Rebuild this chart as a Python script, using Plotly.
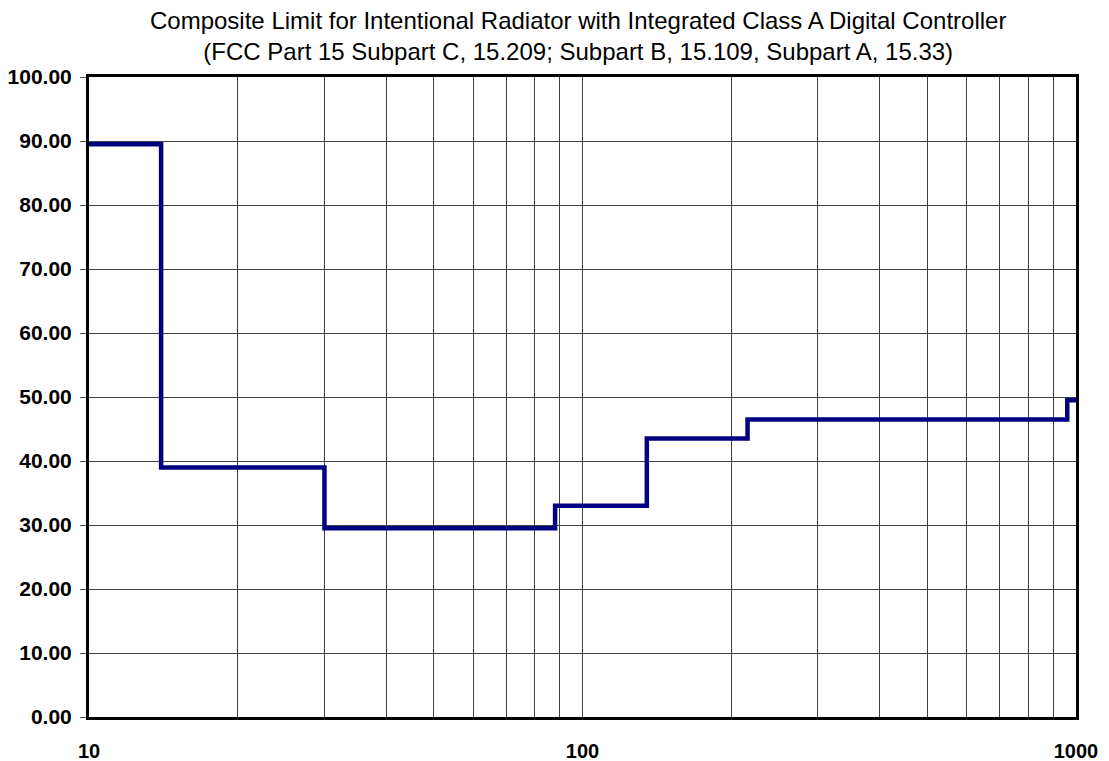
import plotly.graph_objects as go

# Data: frequency breakpoints (MHz) and limit levels (dBuV/m)
freq_breaks = [10, 14, 30, 88, 135, 216, 960, 1000]
limit_levels = [89.5, 39.0, 29.5, 33.0, 43.5, 46.5, 49.5]
x_tick_vals = [10, 20, 30, 40, 50, 60, 70, 80, 90, 100,
               200, 300, 400, 500, 600, 700, 800, 900, 1000]
x_tick_text = ["10", "", "", "", "", "", "", "", "", "100",
               "", "", "", "", "", "", "", "", "1000"]
title_lines = ["Composite Limit for Intentional Radiator with Integrated Class A Digital Controller",
               "(FCC Part 15 Subpart C, 15.209; Subpart B, 15.109, Subpart A, 15.33)"]

y_vals = limit_levels + [limit_levels[-1]]

fig = go.Figure()
fig.add_trace(go.Scatter(
    x=freq_breaks, y=y_vals, mode="lines", line_shape="hv",
    line=dict(color="#000080", width=4.5), hoverinfo="skip", showlegend=False,
))

FONT = "Liberation Sans, Arial, sans-serif"
# the page body adds an 8px offset; margins compensate for it
fig.update_layout(
    width=1109, height=761,
    margin=dict(l=80.5, r=41.3, t=68.5, b=52.3, autoexpand=False),
    paper_bgcolor="white", plot_bgcolor="white",
    font=dict(family=FONT, color="black"),
    showlegend=False,
)
fig.add_annotation(
    text="<br>".join(title_lines), xref="paper", yref="paper",
    x=0.4955, y=1.0646, xanchor="center", yanchor="middle",
    showarrow=False, font=dict(family=FONT, size=24, color="black"),
)
fig.update_xaxes(
    type="log", range=[1, 3], automargin=False,
    tickvals=x_tick_vals, ticktext=x_tick_text,
    showgrid=True, gridcolor="#404040", gridwidth=1,
    showline=True, linecolor="black", linewidth=3, mirror=True,
    ticks="", ticklabelstandoff=14,
    tickfont=dict(family=FONT, size=20, color="black", weight="bold"),
    zeroline=False,
)
fig.update_yaxes(
    range=[0, 100], dtick=10, tickformat=".2f", automargin=False,
    showgrid=True, gridcolor="#404040", gridwidth=1,
    showline=True, linecolor="black", linewidth=3, mirror=True,
    ticks="outside", ticklen=6, tickcolor="#555555", tickwidth=1,
    ticklabelstandoff=4,
    tickfont=dict(family=FONT, size=21, color="black", weight="bold"),
    zeroline=False,
)

fig.write_html("out.html")
